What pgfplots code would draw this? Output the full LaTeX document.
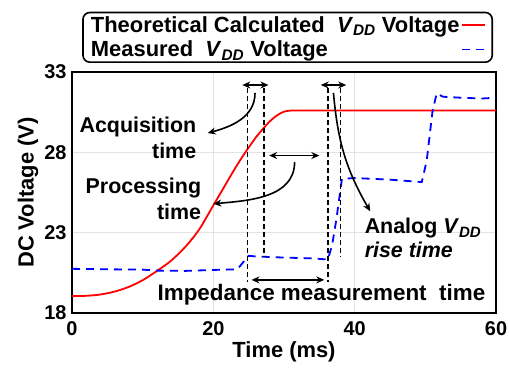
\documentclass[border=0pt]{standalone}
\usepackage{fontspec}
\setmainfont{Liberation Sans}
\usepackage{pgfplots}
\pgfplotsset{compat=1.18}
\usetikzlibrary{arrows.meta}
\newcommand{\VDD}{\textit{V}\textsubscript{\textit{DD}}}
\tikzset{ann/.style={line width=1.6bp, >={Stealth[length=8bp,width=7bp]}},
 vdash/.style={dash pattern=on 5bp off 3bp, line width=1.5bp}}
\begin{document}
\begin{tikzpicture}
\begin{axis}[name=ax, scale only axis, width=424bp, height=241bp,
 xmin=0, xmax=60, ymin=18, ymax=33,
 xtick={0,20,40,60}, ytick={18,23,28,33},
 grid=major, grid style={gray!22, line width=0.6bp},
 major tick length=0pt,
 axis line style={line width=1.7bp},
 /pgf/number format/assume math mode=true,
 ticklabel style={font=\fontsize{20}{24}\selectfont\bfseries},
 xticklabel style={yshift=-5bp},
 yticklabel style={xshift=-2bp},
 label style={font=\fontsize{22}{26}\selectfont\bfseries},
 xlabel={Time (ms)}, ylabel={DC Voltage (V)},
 xlabel style={at={(axis description cs:0.5,-0.162)},anchor=center},
 ylabel style={at={(axis description cs:-0.104,0.5)},anchor=center},
 legend plot pos=right, legend cell align=left,
 legend image code/.code={\draw[#1] (0bp,0bp) -- (23bp,0bp);},
 legend style={at={(axis description cs:0.993,1)}, anchor=south east, yshift=9bp,
   font=\fontsize{22}{26}\selectfont\bfseries, rounded corners=7bp,
   draw=black, line width=1.6bp, inner xsep=6bp, inner ysep=2bp, row sep=3bp},
]
\addplot[red, line width=1.8bp, smooth, tension=0.5] coordinates {
(0,19.05) (2,19.07) (4,19.15) (6,19.33) (8,19.62) (10,20.04) (12,20.61) (14,21.25)
(16,22.1) (18,23.2) (20,24.7) (21,25.45) (22,26.2) (23,26.95) (24,27.65) (25,28.3)
(26,28.92) (27,29.45) (28,29.93) (29,30.3) (30,30.53) (31,30.6) (33,30.6) (45,30.6) (60,30.6)};
\addlegendentry{Theoretical Calculated~ \VDD\ Voltage}
\addplot[blue, line width=1.8bp, dash pattern=on 8bp off 6bp] coordinates {
(0,20.75) (5,20.72) (10,20.7) (12,20.64) (16,20.62) (20,20.68) (23.4,20.72)
(24.3,21.2) (25,21.56) (26,21.52) (30,21.45) (34,21.4) (36.2,21.33) (36.8,22.2)
(37.4,23.8) (38.2,26.35) (40,26.4) (45,26.3) (49.5,26.15) (50.2,27.5) (51.0,30.5)
(51.6,31.67) (52.5,31.46) (55,31.4) (58,31.35) (60,31.4)};
\addlegendentry{Measured~ \VDD\ Voltage}
% dashed markers
\draw[vdash] (axis cs:24.85,32) -- (axis cs:24.85,19.9);
\draw[vdash] (axis cs:27.2,32) -- (axis cs:27.2,21.46);
\draw[vdash] (axis cs:36.2,32) -- (axis cs:36.2,19.9);
\draw[vdash] (axis cs:38.0,32) -- (axis cs:38.0,21.46);
% double arrows
\draw[ann, <->] (axis cs:24.1,32.19) -- (axis cs:27.8,32.19);
\draw[ann, <->] (axis cs:35.2,32.19) -- (axis cs:38.8,32.19);
\draw[ann, <->] (axis cs:27.9,27.8) -- (axis cs:35.0,27.8);
\draw[ann, <->] (axis cs:25.4,20.06) -- (axis cs:35.7,20.06);
% curved arrows
\draw[ann, ->] (axis cs:25.9,31.7) to[out=-90,in=15] (axis cs:19.2,29.2);
\draw[ann, ->] (axis cs:31.5,27.4) to[out=-90,in=5] (axis cs:20.0,24.8);
\draw[ann, ->] (axis cs:37.0,31.7) to[out=-85,in=120] (axis cs:42.2,24.33);
% texts
\node[anchor=east, align=right, inner sep=0pt, font=\fontsize{21.5}{26}\selectfont\bfseries] at (axis cs:17.6,28.92) {Acquisition\\time};
\node[anchor=east, align=right, inner sep=0pt, font=\fontsize{21.5}{25.5}\selectfont\bfseries] at (axis cs:18.3,25.1) {Processing\\time};
\node[anchor=west, align=left, inner sep=0pt, font=\fontsize{21.5}{24}\selectfont\bfseries] at (axis cs:41.4,22.65) {Analog \VDD\\\textit{rise time}};
\node[anchor=center, inner sep=0pt, font=\fontsize{22.5}{26}\selectfont\bfseries] at (axis cs:35.3,19.17) {Impedance measurement~~time};
\end{axis}
\pgfresetboundingbox
\path ([xshift=-72bp,yshift=-54bp]ax.south west) rectangle ([xshift=14bp,yshift=72bp]ax.north east);
\end{tikzpicture}
\end{document}
